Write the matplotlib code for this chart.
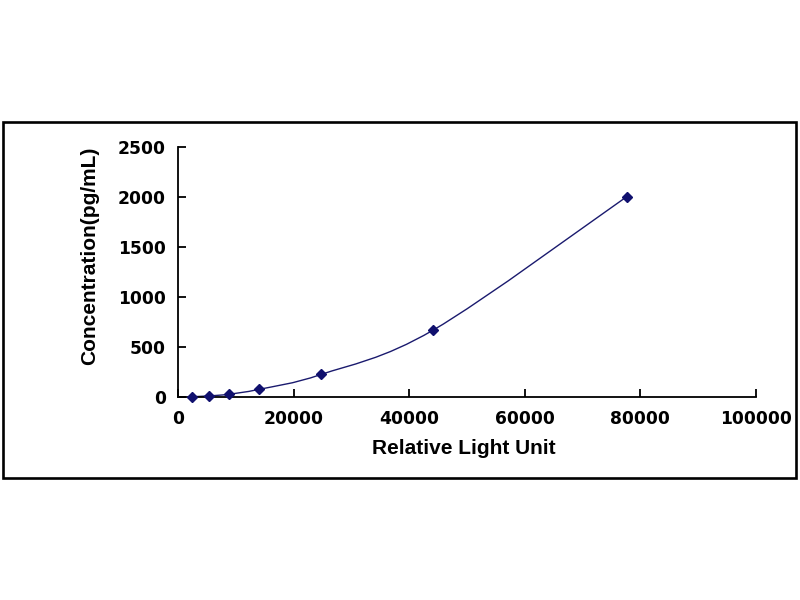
import numpy as np
import matplotlib.pyplot as plt
from matplotlib.path import Path
from matplotlib.patches import PathPatch, Rectangle

# standard curve readings
rlu = [2320, 5370, 8730, 14030, 24710, 44160, 77660]
conc = [0, 8.2, 24.7, 74.1, 222.2, 666.7, 2000]

x_ticks = [0, 20000, 40000, 60000, 80000, 100000]
y_ticks = [0, 500, 1000, 1500, 2000, 2500]

navy = '#1a1a6e'
tick_font = dict(family='DejaVu Sans', weight='bold', size=12.3)
label_font = dict(family='Liberation Sans', weight='bold', size=15)

fig = plt.figure(figsize=(8, 6), dpi=100)

# outer frame
fig.patches.append(Rectangle((2.5/800, 1-478/600), 793.5/800, 356.5/600,
                             transform=fig.transFigure, fill=False,
                             edgecolor='black', linewidth=1.9))

ax = fig.add_axes([178.3/800, 1-396.7/600, 577.4/800, 250/600])

# smoothed line (Excel-style bezier through the points)
px = np.array(rlu, dtype=float)
py = np.array(conc, dtype=float)
pts = np.column_stack([px, py])
n = len(pts)
verts = [pts[0]]
codes = [Path.MOVETO]
for i in range(n-1):
    p0 = pts[max(i-1, 0)]
    p1 = pts[i]
    p2 = pts[i+1]
    p3 = pts[min(i+2, n-1)]
    c1 = p1 + (p2 - p0)/6
    c2 = p2 - (p3 - p1)/6
    verts += [c1, c2, p2]
    codes += [Path.CURVE4]*3
ax.add_patch(PathPatch(Path(verts, codes), fill=False, edgecolor=navy,
                       linewidth=1.0, zorder=2))

ax.plot(rlu, conc, linestyle='none', marker='D', markersize=5.5,
        color='#10106e', zorder=3, clip_on=False)

ax.set_xlim(0, 100000)
ax.set_ylim(0, 2500)
ax.set_xticks(x_ticks)
ax.set_yticks(y_ticks)
ax.set_xticklabels([str(v) for v in x_ticks], fontdict=tick_font)
ax.set_yticklabels([str(v) for v in y_ticks], fontdict=tick_font)

for s in ['top', 'right']:
    ax.spines[s].set_visible(False)
for s in ['left', 'bottom']:
    ax.spines[s].set_linewidth(1.3)
ax.tick_params(axis='both', direction='in', length=6, width=1.3)
ax.tick_params(axis='x', pad=9.5)
ax.tick_params(axis='y', pad=9)

fig.text(464/800, 1-449/600, 'Relative Light Unit', ha='center', va='center',
         fontdict=label_font)
fig.text(90/800, 1-256/600, 'Concentration(pg/mL)', ha='center', va='center',
         rotation=90, fontdict=label_font)

fig.savefig('out.png', dpi=100)
